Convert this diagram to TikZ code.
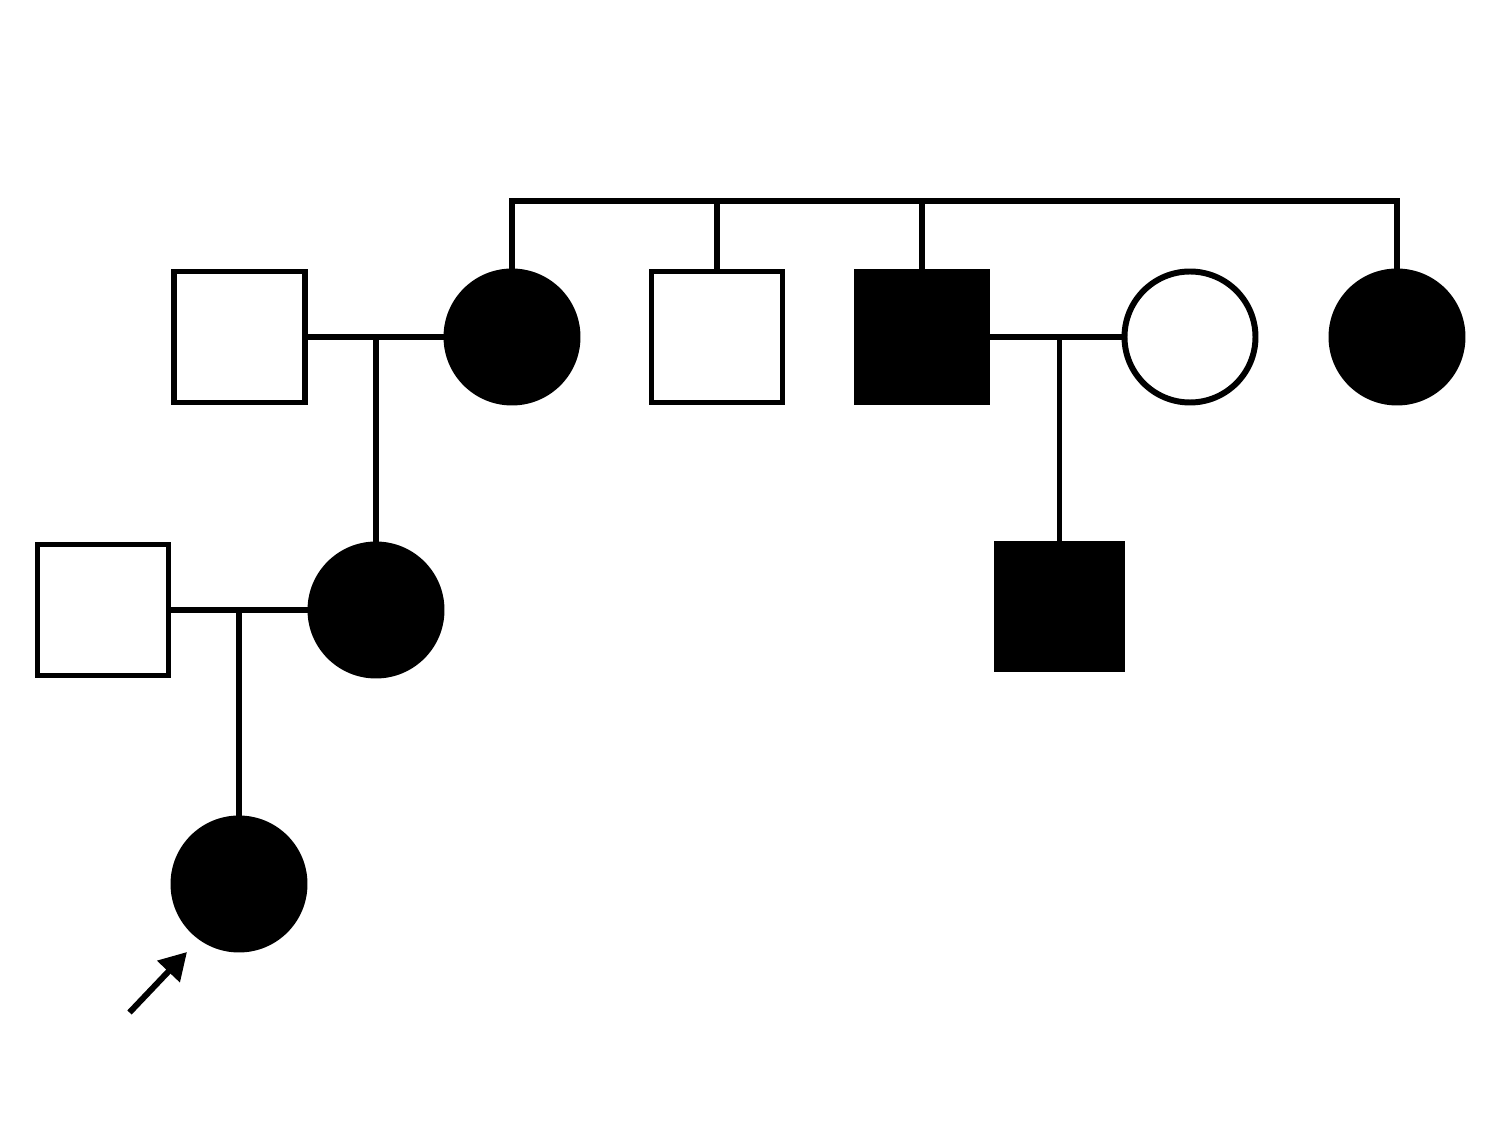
\documentclass[tikz,border=0pt]{standalone}
\usetikzlibrary{arrows.meta}

\tikzset{
  male/.style={draw, rectangle, minimum size=1.31cm, inner sep=0pt},
  female/.style={draw, circle, minimum size=1.31cm, inner sep=0pt},
  aff/.style={fill=black}
}

\begin{document}
\begin{tikzpicture}[line width=1.7pt, line join=miter]
    \useasboundingbox (0, 0) rectangle (15, 11.25);

    % generation I
    \node[male] (F1) at (2.395, 7.88) {};
    \node[female, aff] (M1) at (5.12, 7.88) {};
    \node[male] (B1) at (7.17, 7.88) {};
    \node[male, aff] (B2) at (9.22, 7.88) {};
    \node[female] (W2) at (11.90, 7.88) {};
    \node[female, aff] (S3) at (13.97, 7.88) {};

    % generation II
    \node[male] (H2) at (1.03, 5.15) {};
    \node[female, aff] (D1) at (3.76, 5.15) {};
    \node[male, aff, minimum size=1.25cm] (C2) at (10.595, 5.186) {};

    % proband
    \node[female, aff] (P) at (2.39, 2.41) {};

    % sibship line
    \coordinate (S) at (5.12, 9.24);
    \draw (M1.north) -- (S) -- (S -| S3.north) -- (S3.north);
    \draw (S -| B1.north) -- (B1.north);
    \draw (S -| B2.north) -- (B2.north);

    % couples and children
    \draw (F1.east) -- (M1.west);
    \draw (D1.north) -- (D1.north |- F1.east);
    \draw (B2.east) -- (W2.west);
    \draw (C2.north) -- (C2.north |- B2.east);
    \draw (H2.east) -- (D1.west);
    \draw (P.north) -- (P.north |- H2.east);

    % arrow
    \coordinate (tail) at (1.295, 1.125);
    \coordinate (tip) at (1.87, 1.73);
    \draw[-{Triangle[length=0.27cm, width=0.3cm]}] (tail) -- (tip);
  \end{tikzpicture}
\end{document}
